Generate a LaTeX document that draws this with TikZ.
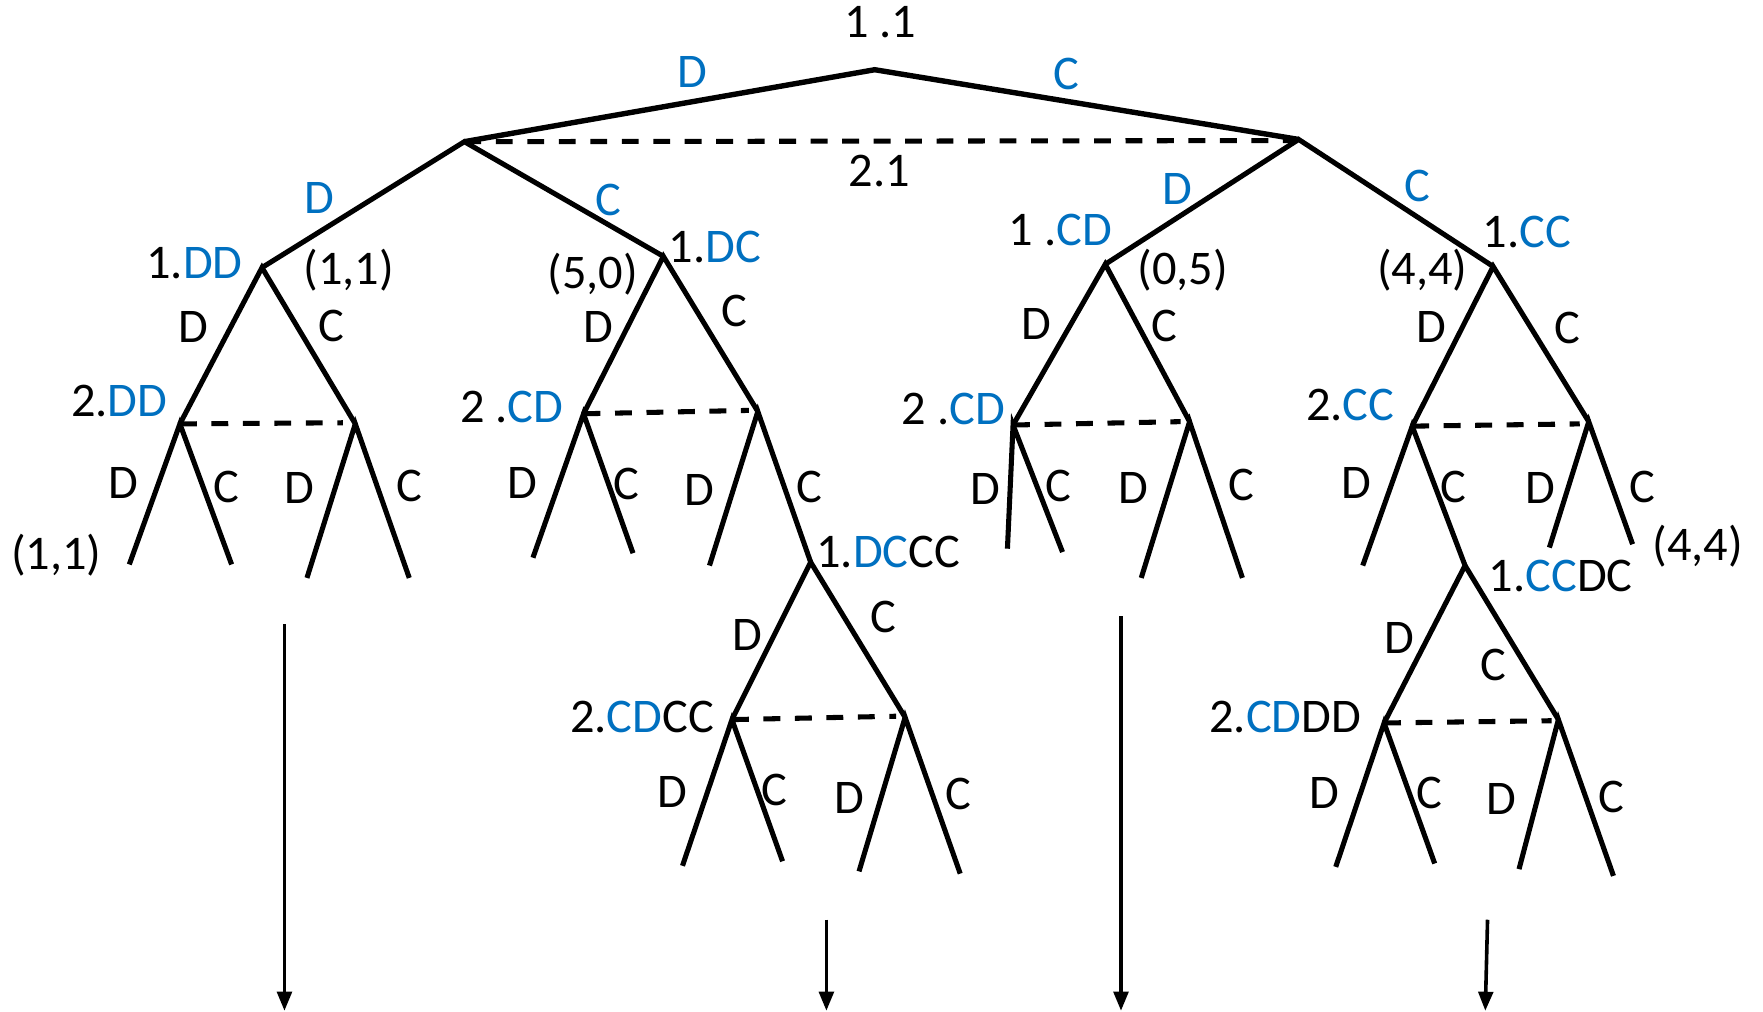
\documentclass[tikz,border=0pt]{standalone}
\usepackage{fontspec}
\setmainfont{Carlito}
\usetikzlibrary{arrows.meta}
\definecolor{gblue}{RGB}{0,112,192}
\newcommand\bluet[1]{\textcolor{gblue}{#1}}
\tikzset{
  edge/.style={line width=4.5pt},
  topedge/.style={line width=4.8pt},
  info/.style={line width=4.5pt, dash pattern=on 15pt off 13pt},
  lab/.style={inner sep=0pt, anchor=center, font=\fontsize{43}{47}\selectfont},
  blab/.style={lab, text=gblue},
  down/.style={line width=3.2pt, -{Triangle[length=17pt,width=13pt]}},
}
\begin{document}
\begin{tikzpicture}[x=1pt,y=-1pt]
\useasboundingbox (0,0) rectangle (1568,900);
% tree nodes
\coordinate (r) at (778,62);
\coordinate (a) at (413,126);
\coordinate (b) at (1155,124);
\coordinate (b0) at (1150,125);
\coordinate (dd) at (233,238);
\coordinate (dc) at (590,228);
\coordinate (cd) at (983,235);
\coordinate (cc) at (1328,237);
\coordinate (ddL) at (160,377);
\coordinate (ddR) at (316,377);
\coordinate (ddR0) at (305,376);
\coordinate (l1) at (115,502);
\coordinate (l2) at (206,502);
\coordinate (l3) at (273,514);
\coordinate (l4) at (364,514);
\coordinate (dcL) at (519,368);
\coordinate (dcR) at (674,366);
\coordinate (dcR0) at (666,365);
\coordinate (l5) at (474,496);
\coordinate (l6) at (563,492);
\coordinate (l7) at (631,503);
\coordinate (dccc) at (721,500);
\coordinate (dcccL) at (651,640);
\coordinate (dcccR) at (805,638);
\coordinate (dcccR0) at (797,637);
\coordinate (l8) at (607,770);
\coordinate (l9) at (696,766);
\coordinate (l10) at (764,775);
\coordinate (l11) at (854,777);
\coordinate (cdL) at (901,378);
\coordinate (cdR) at (1058,375);
\coordinate (cdR0) at (1050,375);
\coordinate (l12) at (896,488);
\coordinate (l13) at (945,491);
\coordinate (l14) at (1015,514);
\coordinate (l15) at (1105,514);
\coordinate (ccL) at (1256,379);
\coordinate (ccR) at (1413,375);
\coordinate (ccR0) at (1405,377);
\coordinate (l16) at (1212,503);
\coordinate (ccdc) at (1303,503);
\coordinate (l17) at (1378,487);
\coordinate (l18) at (1452,484);
\coordinate (ccdcL) at (1231,643);
\coordinate (ccdcR) at (1386,640);
\coordinate (ccdcR0) at (1380,641);
\coordinate (l19) at (1188,771);
\coordinate (l20) at (1276,768);
\coordinate (l21) at (1351,773);
\coordinate (l22) at (1435,779);
% arrows
\coordinate (s1) at (253,555); \coordinate (e1) at (253,899);
\coordinate (s2) at (735,818); \coordinate (e2) at (735,899);
\coordinate (s3) at (997,548); \coordinate (e3) at (997,899);
\coordinate (s4) at (1323,818); \coordinate (e4) at (1321,899);

% edges
\draw[topedge] (a) -- (r) -- (b);
\draw[info] (a) -- (b0);
\draw[edge] (dd) -- (a) -- (dc);
\draw[edge] (cd) -- (b) -- (cc);
\draw[edge] (ddL) -- (dd) -- (ddR);
\draw[info] (ddL) -- (ddR0);
\draw[edge] (l1) -- (ddL) -- (l2);
\draw[edge] (l3) -- (ddR) -- (l4);
\draw[edge] (dcL) -- (dc) -- (dcR);
\draw[info] (dcL) -- (dcR0);
\draw[edge] (l5) -- (dcL) -- (l6);
\draw[edge] (l7) -- (dcR) -- (dccc);
\draw[edge] (dcccL) -- (dccc) -- (dcccR);
\draw[info] (dcccL) -- (dcccR0);
\draw[edge] (l8) -- (dcccL) -- (l9);
\draw[edge] (l10) -- (dcccR) -- (l11);
\draw[edge] (cdL) -- (cd) -- (cdR);
\draw[info] (cdL) -- (cdR0);
\draw[edge] (l12) -- (cdL) -- (l13);
\draw[edge] (l14) -- (cdR) -- (l15);
\draw[edge] (ccL) -- (cc) -- (ccR);
\draw[info] (ccL) -- (ccR0);
\draw[edge] (l16) -- (ccL) -- (ccdc);
\draw[edge] (l17) -- (ccR) -- (l18);
\draw[edge] (ccdcL) -- (ccdc) -- (ccdcR);
\draw[info] (ccdcL) -- (ccdcR0);
\draw[edge] (l19) -- (ccdcL) -- (l20);
\draw[edge] (l21) -- (ccdcR) -- (l22);
\draw[down] (s1) -- (e1);
\draw[down] (s2) -- (e2);
\draw[down] (s3) -- (e3);
\draw[down] (s4) -- (e4);

% labels top
\node[lab] (t11) at (783,20) {1 .1};
\node[blab] (tD) at (616,64) {D};
\node[blab] (tC) at (948,66) {C};
\node[lab] (t21) at (782,152) {2.1};
\node[blab] (aD) at (284,176) {D};
\node[blab] (aC) at (541,178) {C};
\node[blab] (bD) at (1047,168) {D};
\node[blab] (bC) at (1261,165) {C};
\node[lab] (n1dd) at (173,234) {1.\bluet{DD}};
\node[lab] (p11a) at (310,240) {(1,1)};
\node[lab] (p50) at (527,244) {(5,0)};
\node[lab] (n1dc) at (636,220) {1.\bluet{DC}};
\node[lab] (n1cd) at (943,205) {1 .\bluet{CD}};
\node[lab] (p05) at (1052,240) {(0,5)};
\node[lab] (p44a) at (1265,240) {(4,4)};
\node[lab] (n1cc) at (1358,206) {1.\bluet{CC}};
% subtree dd
\node[lab] (q1) at (172,291) {D};
\node[lab] (q2) at (295,290) {C};
\node[lab] (n2dd) at (106,357) {2.\bluet{DD}};
\node[lab] (q3) at (110,430) {D};
\node[lab] (q4) at (201,433) {C};
\node[lab] (q5) at (266,434) {D};
\node[lab] (q6) at (364,432) {C};
\node[lab] (p11b) at (50,494) {(1,1)};
% subtree dc
\node[lab] (q7) at (532,291) {D};
\node[lab] (q8) at (653,277) {C};
\node[lab] (n2cda) at (455,362) {2 .\bluet{CD}};
\node[lab] (q9) at (465,430) {D};
\node[lab] (q10) at (557,430) {C};
\node[lab] (q11) at (622,436) {D};
\node[lab] (q12) at (720,433) {C};
\node[lab] (n1dccc) at (790,491) {1.\bluet{DC}CC};
% subtree dccc
\node[lab] (q13) at (665,565) {D};
\node[lab] (q14) at (786,549) {C};
\node[lab] (n2cdcc) at (571,638) {2.\bluet{CD}CC};
\node[lab] (q15) at (598,704) {D};
\node[lab] (q16) at (689,703) {C};
\node[lab] (q17) at (755,710) {D};
\node[lab] (q18) at (852,706) {C};
% subtree cd
\node[lab] (q19) at (922,288) {D};
\node[lab] (q20) at (1036,290) {C};
\node[lab] (n2cdb) at (848,364) {2 .\bluet{CD}};
\node[lab] (q21) at (876,435) {D};
\node[lab] (q22) at (941,432) {C};
\node[lab] (q23) at (1008,434) {D};
\node[lab] (q24) at (1104,431) {C};
% subtree cc
\node[lab] (q25) at (1273,291) {D};
\node[lab] (q26) at (1394,292) {C};
\node[lab] (n2cc) at (1201,360) {2.\bluet{CC}};
\node[lab] (q27) at (1206,430) {D};
\node[lab] (q28) at (1293,433) {C};
\node[lab] (q29) at (1370,434) {D};
\node[lab] (q30) at (1461,433) {C};
\node[lab] (p44b) at (1510,486) {(4,4)};
\node[lab] (n1ccdc) at (1388,512) {1.\bluet{CC}DC};
% subtree ccdc
\node[lab] (q31) at (1245,567) {D};
\node[lab] (q32) at (1328,591) {C};
\node[lab] (n2cddd) at (1143,638) {2.\bluet{CD}DD};
\node[lab] (q33) at (1178,705) {D};
\node[lab] (q34) at (1271,705) {C};
\node[lab] (q35) at (1335,711) {D};
\node[lab] (q36) at (1433,709) {C};
\end{tikzpicture}
\end{document}
